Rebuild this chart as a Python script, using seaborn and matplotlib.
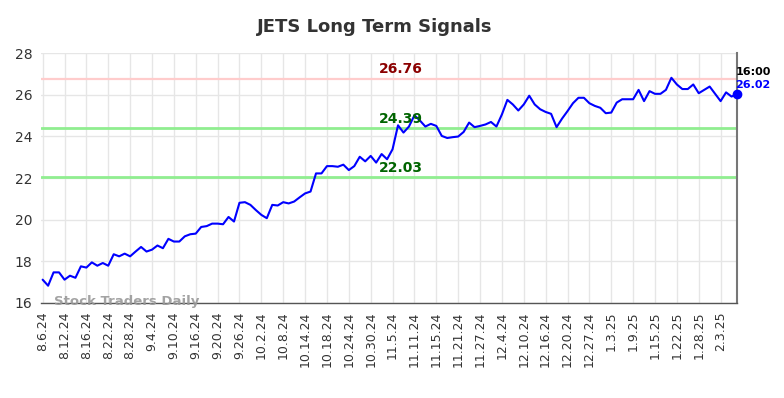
import numpy as np
import matplotlib
matplotlib.use("Agg")
import matplotlib.pyplot as plt
import seaborn as sns

# closing prices, one per trading day
prices = [17.12, 16.83, 17.47, 17.47, 17.12, 17.31, 17.21, 17.76, 17.70, 17.95,
          17.79, 17.92, 17.79, 18.34, 18.24, 18.37, 18.24, 18.47, 18.69, 18.47,
          18.56, 18.76, 18.63, 19.08, 18.95, 18.95, 19.20, 19.30, 19.33, 19.65,
          19.69, 19.81, 19.81, 19.78, 20.13, 19.91, 20.81, 20.84, 20.71, 20.46,
          20.23, 20.07, 20.71, 20.68, 20.84, 20.78, 20.87, 21.07, 21.26, 21.35,
          22.22, 22.22, 22.57, 22.57, 22.54, 22.64, 22.38, 22.57, 23.02, 22.80,
          23.06, 22.74, 23.15, 22.90, 23.38, 24.53, 24.18, 24.47, 25.01, 24.76,
          24.47, 24.60, 24.50, 24.02, 23.92, 23.96, 23.99, 24.21, 24.66, 24.44,
          24.50, 24.57, 24.69, 24.47, 25.05, 25.75, 25.53, 25.24, 25.53, 25.95,
          25.53, 25.30, 25.17, 25.08, 24.44, 24.85, 25.21, 25.59, 25.85, 25.85,
          25.59, 25.46, 25.37, 25.11, 25.14, 25.62, 25.78, 25.78, 25.78, 26.23,
          25.69, 26.17, 26.04, 26.04, 26.23, 26.81, 26.49, 26.27, 26.27, 26.49,
          26.07, 26.23, 26.39, 26.04, 25.69, 26.11, 25.91, 26.02]

date_labels = ["8.6.24", "8.12.24", "8.16.24", "8.22.24", "8.28.24", "9.4.24",
               "9.10.24", "9.16.24", "9.20.24", "9.26.24", "10.2.24", "10.8.24",
               "10.14.24", "10.18.24", "10.24.24", "10.30.24", "11.5.24", "11.11.24",
               "11.15.24", "11.21.24", "11.27.24", "12.4.24", "12.10.24", "12.16.24",
               "12.20.24", "12.27.24", "1.3.25", "1.9.25", "1.15.25", "1.22.25",
               "1.28.25", "2.3.25"]

resistance = 26.76
supports = [24.39, 22.03]
last_time = "16:00"

x = np.arange(len(prices))
tick_pos = np.arange(0, len(date_labels) * 4, 4)

sns.set_style("white")
fig = plt.figure(figsize=(7.84, 3.98), dpi=100)
ax = fig.add_axes([41 / 784, 1 - 303 / 398, (737 - 41) / 784, 250 / 398])

# signal lines
ax.axhline(resistance, color="#ffcccc", lw=1.6, zorder=1)
for s in supports:
    ax.axhline(s, color="#90ee90", lw=2, zorder=1)

sns.lineplot(x=x, y=prices, ax=ax, color="#0000ff", lw=1.5, zorder=3)
ax.plot(x[-1], prices[-1], "o", color="#0000ff", ms=6, zorder=5, clip_on=False)

ax.set_xlim(-0.3, len(prices) - 1)
ax.set_ylim(16, 28)
ax.set_yticks(range(16, 29, 2))
ax.set_xticks(tick_pos)
ax.set_xticklabels(date_labels, rotation=90, fontsize=9, color="#333333")
ax.tick_params(axis="y", labelsize=10, labelcolor="#333333", length=0, pad=6)
ax.tick_params(axis="x", length=0, pad=6)
ax.grid(True, color="#e6e6e6", lw=1)
ax.set_axisbelow(True)

for side in ["top", "left"]:
    ax.spines[side].set_visible(False)
ax.spines["bottom"].set_color("#555555")
ax.spines["bottom"].set_linewidth(1)
ax.spines["right"].set_color("#777777")
ax.spines["right"].set_linewidth(1.5)

lx = 65.5
ax.text(lx, resistance + 0.12, f"{resistance:.2f}", color="#8b0000", fontsize=10,
        fontweight="bold", ha="center", va="bottom")
ax.text(lx, supports[0] + 0.12, f"{supports[0]:.2f}", color="#006400", fontsize=10,
        fontweight="bold", ha="center", va="bottom")
ax.text(lx, supports[1] + 0.12, f"{supports[1]:.2f}", color="#006400", fontsize=10,
        fontweight="bold", ha="center", va="bottom")

fig.text(753 / 784, 1 - 72 / 398, last_time, fontsize=8, fontweight="bold",
         color="black", ha="center", va="center")
fig.text(753 / 784, 1 - 85 / 398, f"{prices[-1]:.2f}", fontsize=8, fontweight="bold",
         color="#0000ff", ha="center", va="center")

fig.text(54 / 784, 1 - 302 / 398, "Stock Traders Daily", fontsize=9.5, fontweight="bold",
         color="#999999", alpha=0.9, ha="left", va="center")

fig.text(375 / 784, 1 - 27 / 398, "JETS Long Term Signals", fontsize=13,
         fontweight="bold", color="#333333", ha="center", va="center")

fig.savefig("out.png", dpi=100)
